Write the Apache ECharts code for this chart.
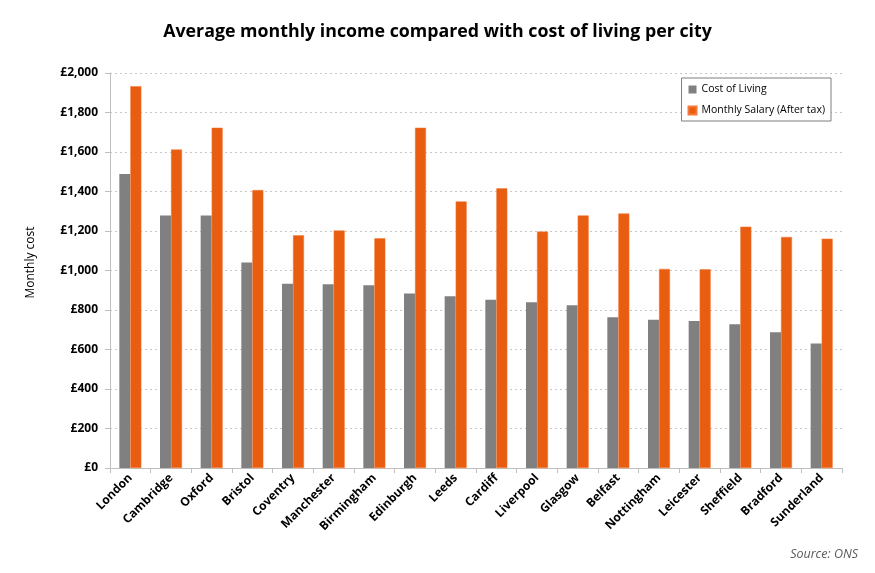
<!DOCTYPE html>
<html><head><meta charset="utf-8">
<script src="https://cdn.jsdelivr.net/npm/echarts@6/dist/echarts.min.js"></script>
<style>html,body{margin:0;padding:0;background:#fff}#c{width:875px;height:573px}</style>
</head><body><div id="c"></div>
<script>
const cities = ['London','Cambridge','Oxford','Bristol','Coventry','Manchester','Birmingham','Edinburgh','Leeds','Cardiff','Liverpool','Glasgow','Belfast','Nottingham','Leicester','Sheffield','Bradford','Sunderland'];
const costOfLiving = [1489,1279,1278,1041,933,930,925,884,869,852,839,824,763,751,744,728,687,631];
const monthlySalary = [1933,1613,1723,1407,1178,1203,1163,1723,1350,1416,1197,1279,1289,1008,1006,1222,1170,1161];
const yTicks = [0,200,400,600,800,1000,1200,1400,1600,1800,2000];

const fmt = v => '£' + v.toLocaleString('en-GB');
const chart = echarts.init(document.getElementById('c'));
const FONT = "'Open Sans', 'Liberation Sans', sans-serif";
chart.setOption({
  animation: false,
  textStyle: {fontFamily: FONT},
  title: [{
    text: 'Average monthly income compared with cost of living per city',
    left: 'center', top: 18,
    textStyle: {fontSize: 17.8, fontWeight: 'bold', color: '#000', fontFamily: FONT}
  },{
    text: 'Source: ONS', right: 12, top: 543,
    textStyle: {fontSize: 12.5, fontStyle: 'italic', fontWeight: 'normal', color: '#595959', fontFamily: FONT}
  }],
  legend: {
    orient: 'vertical', right: 44, top: 78,
    padding: [6, 6, 5, 6], itemGap: 10,
    borderColor: '#7f7f7f', borderWidth: 1, backgroundColor: '#fff',
    itemWidth: 8, itemHeight: 8, icon: 'rect',
    textStyle: {fontSize: 10.5, color: '#000', fontFamily: FONT}
  },
  grid: {left: 110, right: 33, top: 73, bottom: 105, containLabel: false},
  xAxis: {
    type: 'category', data: cities,
    axisLine: {lineStyle: {color: '#bfbfbf'}},
    axisTick: {show: true, length: 5, lineStyle: {color: '#bfbfbf'}},
    axisLabel: {rotate: 45, interval: 0, fontSize: 12, fontWeight: 'bold', color: '#000', margin: 8}
  },
  yAxis: {
    type: 'value', min: 0, max: 2000, interval: 200,
    name: 'Monthly cost', nameLocation: 'middle', nameGap: 73, nameRotate: 90,
    nameTextStyle: {fontSize: 12, color: '#000', fontWeight: 500, padding: [0, 0, 0, 16]},
    axisLine: {show: true, lineStyle: {color: '#bfbfbf'}},
    axisTick: {show: true, length: 5, inside: false, lineStyle: {color: '#bfbfbf'}},
    axisLabel: {fontSize: 12, fontWeight: 'bold', color: '#000', margin: 12,
      formatter: v => yTicks.includes(v) ? fmt(v) : ''},
    splitLine: {lineStyle: {color: '#c8c8c8', type: [2, 3]}}
  },
  series: [{
    name: 'Cost of Living', type: 'bar', data: costOfLiving,
    barWidth: 11, barGap: '0%',
    itemStyle: {color: '#808080'}
  },{
    name: 'Monthly Salary (After tax)', type: 'bar', data: monthlySalary,
    barWidth: 11,
    itemStyle: {color: '#E85D10', borderColor: '#F57A3A', borderWidth: 0.5}
  }]
});
</script></body></html>
